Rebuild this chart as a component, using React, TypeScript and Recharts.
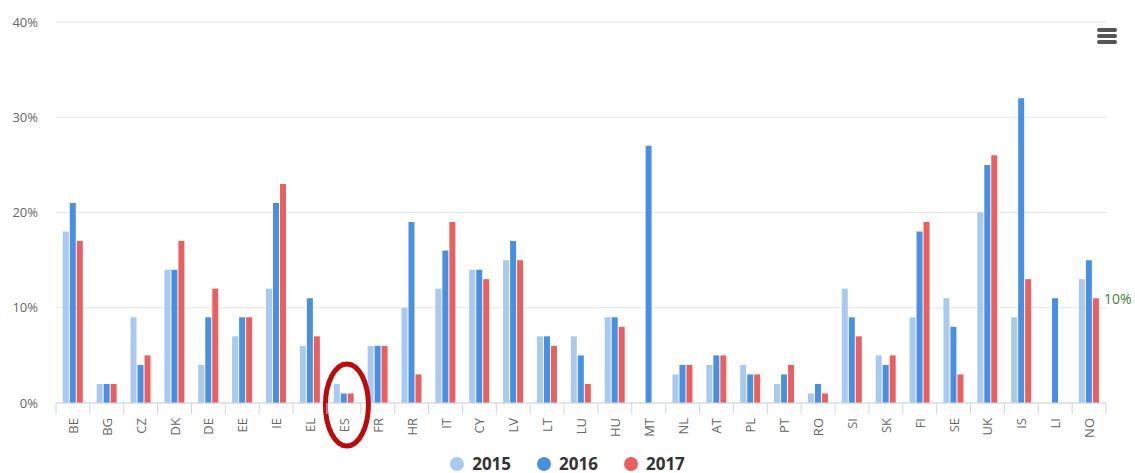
import {
  BarChart,
  Bar,
  XAxis,
  YAxis,
  CartesianGrid,
  Legend,
  ReferenceLine,
  ReferenceDot,
} from "recharts";

const countries = [
  "BE", "BG", "CZ", "DK", "DE", "EE", "IE", "EL", "ES", "FR", "HR", "IT", "CY", "LV", "LT", "LU",
  "HU", "MT", "NL", "AT", "PL", "PT", "RO", "SI", "SK", "FI", "SE", "UK", "IS", "LI", "NO",
];
const values2015 = [18, 2, 9, 14, 4, 7, 12, 6, 2, 6, 10, 12, 14, 15, 7, 7, 9, null, 3, 4, 4, 2, 1, 12, 5, 9, 11, 20, 9, null, 13];
const values2016 = [21, 2, 4, 14, 9, 9, 21, 11, 1, 6, 19, 16, 14, 17, 7, 5, 9, 27, 4, 5, 3, 3, 2, 9, 4, 18, 8, 25, 32, 11, 15];
const values2017 = [17, 2, 5, 17, 12, 9, 23, 7, 1, 6, 3, 19, 13, 15, 6, 2, 8, null, 4, 5, 3, 4, 1, 7, 5, 19, 3, 26, 13, null, 11];
const yTicks = [0, 10, 20, 30, 40];
const years = ["2015", "2016", "2017"];
const yearColors = ["#a9c9f1", "#4a90e2", "#e8605f"];

const data = countries.map((country, i) => ({
  country,
  y2015: values2015[i],
  y2016: values2016[i],
  y2017: values2017[i],
}));

const FONT = "'Open Sans', sans-serif";

function CountryTick(props: any) {
  const { x, y, payload, index } = props;
  const half = typeof payload?.offset === "number" && payload.offset > 0 ? payload.offset : 16.9;
  const isLast = index === countries.length - 1;
  const ty = y + 15;
  return (
    <g>
      <line x1={x - half} x2={x - half} y1={y} y2={y + 11} stroke="#ccd6eb" />
      {isLast && <line x1={x + half} x2={x + half} y1={y} y2={y + 11} stroke="#ccd6eb" />}
      <text
        x={x}
        y={ty}
        transform={`rotate(-90 ${x} ${ty})`}
        textAnchor="end"
        dominantBaseline="central"
        fill="#666"
        fontSize={13}
        fontFamily={FONT}
      >
        {payload.value}
      </text>
    </g>
  );
}

function YearLegend() {
  return (
    <div
      style={{
        display: "flex",
        justifyContent: "center",
        alignItems: "center",
        height: 18,
        gap: 26,
        fontFamily: FONT,
      }}
    >
      {years.map((year, i) => (
        <div key={year} style={{ display: "flex", alignItems: "center", height: 18 }}>
          <span
            style={{
              width: 14,
              height: 14,
              borderRadius: "50%",
              background: yearColors[i],
              marginRight: 8,
              display: "inline-block",
            }}
          />
          <span style={{ fontWeight: 700, fontSize: 17, lineHeight: "18px", color: "#333" }}>{year}</span>
        </div>
      ))}
    </div>
  );
}

function MenuIcon() {
  return (
    <div style={{ position: "absolute", left: 1097, top: 28, width: 20 }}>
      {[0, 1, 2].map((k) => (
        <div key={k} style={{ height: 3.5, background: "#555", borderRadius: 2, marginBottom: 2.5 }} />
      ))}
    </div>
  );
}

export default function App() {
  return (
    <div style={{ position: "absolute", left: 0, top: 0, width: 1135, height: 473, background: "#fff" }}>
      <BarChart
        width={1135}
        height={473}
        data={data}
        margin={{ top: 22, right: 29, bottom: 0, left: 0 }}
        barCategoryGap="20%"
        barGap={1}
      >
        <CartesianGrid vertical={false} stroke="#e6e6e6" />
        <XAxis
          dataKey="country"
          interval={0}
          height={52}
          tickSize={0}
          tickMargin={0}
          tickLine={false}
          axisLine={{ stroke: "#ccd6eb" }}
          tick={<CountryTick />}
        />
        <YAxis
          domain={[0, 40]}
          ticks={yTicks}
          width={56}
          tickSize={0}
          tickMargin={18}
          axisLine={false}
          tickLine={false}
          tickFormatter={(v) => `${v}%`}
          tick={{ fill: "#666", fontSize: 13, fontFamily: FONT }}
        />
        <Legend
          content={<YearLegend />}
          verticalAlign="bottom"
          wrapperStyle={{ position: "absolute", left: 0, top: 455, bottom: "auto", width: 1135, height: 18 }}
        />
        <Bar dataKey="y2015" name="2015" fill={yearColors[0]} isAnimationActive={false} />
        <Bar dataKey="y2016" name="2016" fill={yearColors[1]} isAnimationActive={false} />
        <Bar dataKey="y2017" name="2017" fill={yearColors[2]} isAnimationActive={false} />
        <ReferenceLine
          y={10}
          stroke="none"
          label={(p: any) => (
            <text
              x={p.viewBox.x + p.viewBox.width - 2}
              y={p.viewBox.y - 4}
              fill="#3d7f3d"
              fontSize={14}
              fontFamily={FONT}
            >
              10%
            </text>
          )}
        />
        <ReferenceDot
          x="ES"
          y={0}
          ifOverflow="visible"
          shape={(p: any) => (
            <ellipse cx={p.cx + 3} cy={p.cy + 2} rx={21.5} ry={41} fill="none" stroke="#bb0b0b" strokeWidth={5} />
          )}
        />
      </BarChart>
      <MenuIcon />
    </div>
  );
}
